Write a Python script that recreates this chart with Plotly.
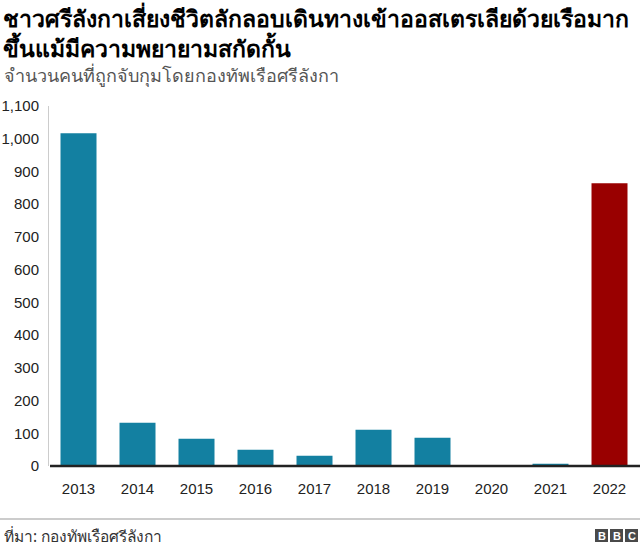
import plotly.graph_objects as go

years = ["2013", "2014", "2015", "2016", "2017", "2018", "2019", "2020", "2021", "2022"]
arrests = [1017, 132, 83, 50, 31, 111, 86, 0, 7, 864]
bar_colors = ["#1380A1"] * 9 + ["#990000"]
y_ticks = [0, 100, 200, 300, 400, 500, 600, 700, 800, 900, 1000, 1100]

title_text = "ชาวศรีลังกาเสี่ยงชีวิตลักลอบเดินทางเข้าออสเตรเลียด้วยเรือมาก<br>ขึ้นแม้มีความพยายามสกัดกั้น"
subtitle_text = "จำนวนคนที่ถูกจับกุมโดยกองทัพเรือศรีลังกา"
source_text = "ที่มา: กองทัพเรือศรีลังกา"

W, H = 640, 547
L, R, T, B = 49, 1, 106, 81
PW, PH = W - L - R, H - T - B

def px(x):
    return (x - L) / PW

def py(y):
    return (H - B - y) / PH

fig = go.Figure(go.Bar(
    x=years, y=arrests, marker=dict(color=bar_colors, line=dict(width=0)),
    width=0.61, hoverinfo="x+y",
))

fig.update_layout(
    width=W, height=H,
    margin=dict(l=L, r=R, t=T, b=B),
    paper_bgcolor="white", plot_bgcolor="white",
    showlegend=False,
    font=dict(family="Liberation Sans, Arial, sans-serif", color="#222222"),
    xaxis=dict(
        type="category", showgrid=False, zeroline=False, showline=False,
        ticks="", tickfont=dict(size=15, color="#222222"),
        ticklabelstandoff=12,
    ),
    yaxis=dict(
        range=[0, 1100], tickvals=y_ticks,
        ticktext=[f"{v:,}" for v in y_ticks],
        showgrid=False, zeroline=False,
        showline=True, linecolor="#cccccc", linewidth=1,
        ticks="", tickfont=dict(size=15, color="#222222"),
        ticklabelstandoff=6,
    ),
)

shapes = [
    # baseline
    dict(type="line", xref="paper", yref="paper", x0=px(50), x1=px(640), y0=0, y1=0,
         line=dict(color="#222222", width=2.5)),
    # footer rule
    dict(type="line", xref="paper", yref="paper", x0=px(0), x1=px(640), y0=py(519), y1=py(519),
         line=dict(color="#999999", width=1)),
]
annotations = [
    dict(text="<b>" + title_text + "</b>", xref="paper", yref="paper",
         x=px(1), y=py(0), xanchor="left", yanchor="top", align="left", showarrow=False,
         font=dict(size=23, color="#000000", family="Noto Sans, Liberation Sans, sans-serif")),
    dict(text=subtitle_text, xref="paper", yref="paper",
         x=px(2), y=py(61), xanchor="left", yanchor="top", align="left", showarrow=False,
         font=dict(size=18, color="#555555", family="Noto Sans, Liberation Sans, sans-serif")),
    dict(text=source_text, xref="paper", yref="paper",
         x=px(2), y=py(536), xanchor="left", yanchor="middle", align="left", showarrow=False,
         font=dict(size=15.5, color="#333333", family="Noto Sans, Liberation Sans, sans-serif")),
]
# BBC logo blocks
for i, letter in enumerate("BBC"):
    x0 = 595 + i * 15
    shapes.append(dict(type="rect", xref="paper", yref="paper",
                       x0=px(x0), x1=px(x0 + 13), y0=py(542), y1=py(529),
                       fillcolor="#4a4a4a", line=dict(width=0)))
    annotations.append(dict(text="<b>" + letter + "</b>", xref="paper", yref="paper",
                            x=px(x0 + 6.5), y=py(535.5), xanchor="center", yanchor="middle",
                            showarrow=False,
                            font=dict(size=11, color="white", family="Liberation Sans, Arial")))

fig.update_layout(shapes=shapes, annotations=annotations)
fig.write_html("out.html", config={"displayModeBar": False},
               post_script="document.body.style.margin='0';")
